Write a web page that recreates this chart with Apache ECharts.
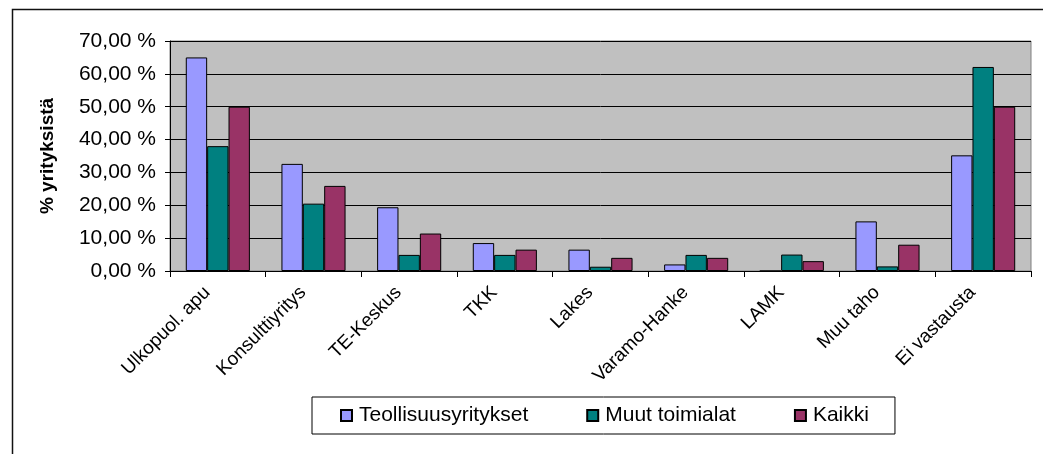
<!DOCTYPE html>
<html>
<head>
<meta charset="utf-8">
<script src="https://cdn.jsdelivr.net/npm/echarts@6/dist/echarts.min.js"></script>
<style>
  html, body { margin: 0; padding: 0; background: #fff; }
  #chart { width: 1043px; height: 454px; }
</style>
</head>
<body>
<div id="chart"></div>
<script>
var categories = ['Ulkopuol. apu', 'Konsulttiyritys', 'TE-Keskus', 'TKK', 'Lakes',
    'Varamo-Hanke', 'LAMK', 'Muu taho', 'Ei vastausta'];
var teollisuus = [65.0, 32.6, 19.4, 8.5, 6.5, 2.0, 0, 15.1, 35.2];
var muutToimialat = [38.0, 20.5, 4.9, 4.9, 1.3, 4.9, 5.0, 1.4, 62.1];
var kaikki = [50.0, 25.9, 11.4, 6.5, 4.0, 4.0, 3.0, 8.0, 50.0];

var font = 'Liberation Sans, Arial, sans-serif';

var myChart = echarts.init(document.getElementById('chart'));
var option = {
    animation: false,
    textStyle: {fontFamily: font, color: '#000'},
    graphic: [
        {
            type: 'rect',
            left: 10,
            top: 7,
            shape: {width: 1060, height: 470},
            style: {fill: 'none', stroke: '#111', lineWidth: 1.5}
        }
    ],
    grid: {
        left: 170,
        right: 12,
        top: 41,
        bottom: 183,
        show: true,
        backgroundColor: '#C0C0C0',
        borderColor: '#808080',
        borderWidth: 1
    },
    legend: {
        left: 312,
        top: 397,
        itemWidth: 11,
        itemHeight: 11,
        itemGap: 58,
        padding: [8, 26, 8, 28],
        borderColor: '#000',
        borderWidth: 1,
        icon: 'rect',
        textStyle: {fontSize: 21, fontFamily: font, color: '#000', padding: [0, 0, 0, 2]},
        data: ['Teollisuusyritykset', 'Muut toimialat', 'Kaikki']
    },
    xAxis: {
        type: 'category',
        data: categories,
        axisLine: {lineStyle: {color: '#000', width: 1}},
        axisTick: {show: true, length: 6, lineStyle: {color: '#000'}},
        axisLabel: {
            rotate: 45,
            margin: 8,
            fontSize: 19,
            color: '#000',
            interval: 0,
            padding: [0, 15, 0, 0]
        }
    },
    yAxis: {
        type: 'value',
        min: 0,
        max: 70,
        interval: 10,
        name: '% yrityksistä',
        nameLocation: 'middle',
        nameGap: 113,
        nameTextStyle: {fontSize: 19, fontWeight: 'bold', color: '#000'},
        axisLine: {show: true, lineStyle: {color: '#000'}},
        axisTick: {show: true, length: 5, lineStyle: {color: '#000'}},
        splitLine: {lineStyle: {color: '#000', width: 1}},
        axisLabel: {
            fontSize: 21,
            margin: 14,
            color: '#000',
            formatter: function (v) { return v.toFixed(2).replace('.', ',') + ' %'; }
        }
    },
    series: [
        {
            name: 'Teollisuusyritykset',
            type: 'bar',
            data: teollisuus,
            barGap: '0%',
            barCategoryGap: '33%',
            itemStyle: {color: '#9999FF', borderColor: '#000', borderWidth: 1}
        },
        {
            name: 'Muut toimialat',
            type: 'bar',
            data: muutToimialat,
            itemStyle: {color: '#008080', borderColor: '#000', borderWidth: 1}
        },
        {
            name: 'Kaikki',
            type: 'bar',
            data: kaikki,
            itemStyle: {color: '#993366', borderColor: '#000', borderWidth: 1}
        }
    ]
};
myChart.setOption(option);
</script>
</body>
</html>
